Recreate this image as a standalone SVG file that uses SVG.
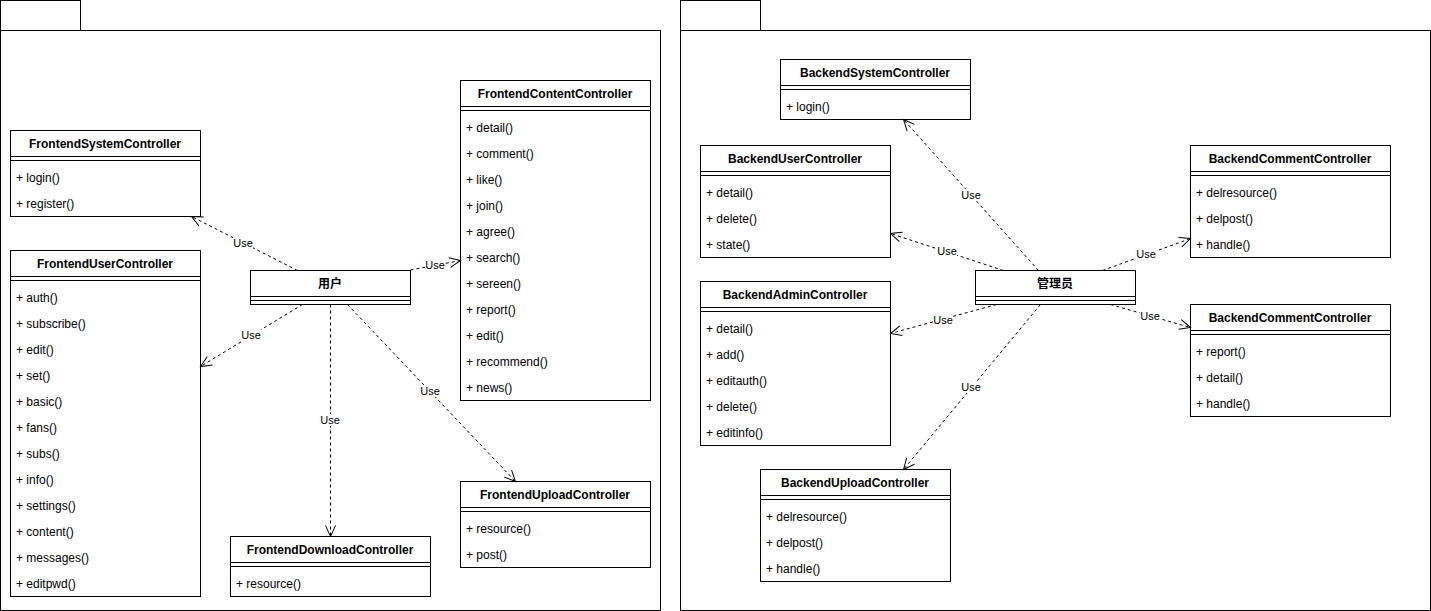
<svg xmlns="http://www.w3.org/2000/svg" width="1431" height="611" viewBox="0 0 1431 611">
<style>
.pk{fill:#fff;stroke:#000;stroke-width:1}
.bx{fill:#fff;stroke:#000;stroke-width:1}
.ln{stroke:#000;stroke-width:1}
.t{font-family:"Liberation Sans",Arial,"Noto Sans CJK SC",sans-serif;font-size:12px;font-weight:bold;text-anchor:middle;fill:#000}
.m{font-family:"Liberation Sans",Arial,sans-serif;font-size:12px;fill:#000}
.c{fill:none;stroke:#000;stroke-width:1;stroke-dasharray:3 3;marker-end:url(#open)}
.lb{fill:#fff}
.lt{font-family:"Liberation Sans",Arial,sans-serif;font-size:11px;text-anchor:middle;fill:#000}
</style>
<defs>
<marker id="open" markerUnits="userSpaceOnUse" markerWidth="16" markerHeight="16" viewBox="-13 -8 16 16" refX="0" refY="0" orient="auto">
<path d="M-11,-5 L0,0 L-11,5" fill="none" stroke="#000" stroke-width="1"/>
</marker>
</defs>

<g id="pkg-frontend">
<rect class="pk" x="0.5" y="0.5" width="80" height="30"/>
<rect class="pk" x="0.5" y="30.5" width="660" height="580"/>
</g>
<g id="pkg-backend">
<rect class="pk" x="680.5" y="0.5" width="80" height="30"/>
<rect class="pk" x="680.5" y="30.5" width="750" height="580"/>
</g>

<g id="FrontendSystemController">
<rect class="bx" x="10.5" y="130.5" width="190" height="86"/>
<line class="ln" x1="10" y1="156.5" x2="201" y2="156.5"/>
<line class="ln" x1="10" y1="160.5" x2="201" y2="160.5"/>
<text class="t" x="105" y="148">FrontendSystemController</text>
<text class="m" x="16" y="182">+ login()</text>
<text class="m" x="16" y="208">+ register()</text>
</g>

<g id="FrontendUserController">
<rect class="bx" x="10.5" y="250.5" width="190" height="346"/>
<line class="ln" x1="10" y1="276.5" x2="201" y2="276.5"/>
<line class="ln" x1="10" y1="280.5" x2="201" y2="280.5"/>
<text class="t" x="105" y="268">FrontendUserController</text>
<text class="m" x="16" y="302">+ auth()</text>
<text class="m" x="16" y="328">+ subscribe()</text>
<text class="m" x="16" y="354">+ edit()</text>
<text class="m" x="16" y="380">+ set()</text>
<text class="m" x="16" y="406">+ basic()</text>
<text class="m" x="16" y="432">+ fans()</text>
<text class="m" x="16" y="458">+ subs()</text>
<text class="m" x="16" y="484">+ info()</text>
<text class="m" x="16" y="510">+ settings()</text>
<text class="m" x="16" y="536">+ content()</text>
<text class="m" x="16" y="562">+ messages()</text>
<text class="m" x="16" y="588">+ editpwd()</text>
</g>

<g id="FrontendContentController">
<rect class="bx" x="460.5" y="80.5" width="190" height="320"/>
<line class="ln" x1="460" y1="106.5" x2="651" y2="106.5"/>
<line class="ln" x1="460" y1="110.5" x2="651" y2="110.5"/>
<text class="t" x="555" y="98">FrontendContentController</text>
<text class="m" x="466" y="132">+ detail()</text>
<text class="m" x="466" y="158">+ comment()</text>
<text class="m" x="466" y="184">+ like()</text>
<text class="m" x="466" y="210">+ join()</text>
<text class="m" x="466" y="236">+ agree()</text>
<text class="m" x="466" y="262">+ search()</text>
<text class="m" x="466" y="288">+ sereen()</text>
<text class="m" x="466" y="314">+ report()</text>
<text class="m" x="466" y="340">+ edit()</text>
<text class="m" x="466" y="366">+ recommend()</text>
<text class="m" x="466" y="392">+ news()</text>
</g>

<g id="user">
<rect class="bx" x="250.5" y="270.5" width="160" height="34"/>
<line class="ln" x1="250" y1="296.5" x2="411" y2="296.5"/>
<line class="ln" x1="250" y1="300.5" x2="411" y2="300.5"/>
<text class="t" x="330" y="288">用户</text>
</g>

<g id="FrontendDownloadController">
<rect class="bx" x="230.5" y="536.5" width="200" height="60"/>
<line class="ln" x1="230" y1="562.5" x2="431" y2="562.5"/>
<line class="ln" x1="230" y1="566.5" x2="431" y2="566.5"/>
<text class="t" x="330" y="554">FrontendDownloadController</text>
<text class="m" x="236" y="588">+ resource()</text>
</g>

<g id="FrontendUploadController">
<rect class="bx" x="460.5" y="481.5" width="190" height="86"/>
<line class="ln" x1="460" y1="507.5" x2="651" y2="507.5"/>
<line class="ln" x1="460" y1="511.5" x2="651" y2="511.5"/>
<text class="t" x="555" y="499">FrontendUploadController</text>
<text class="m" x="466" y="533">+ resource()</text>
<text class="m" x="466" y="559">+ post()</text>
</g>

<g id="BackendSystemController">
<rect class="bx" x="780.5" y="59.5" width="190" height="60"/>
<line class="ln" x1="780" y1="85.5" x2="971" y2="85.5"/>
<line class="ln" x1="780" y1="89.5" x2="971" y2="89.5"/>
<text class="t" x="875" y="77">BackendSystemController</text>
<text class="m" x="786" y="111">+ login()</text>
</g>

<g id="BackendUserController">
<rect class="bx" x="700.5" y="145.5" width="190" height="112"/>
<line class="ln" x1="700" y1="171.5" x2="891" y2="171.5"/>
<line class="ln" x1="700" y1="175.5" x2="891" y2="175.5"/>
<text class="t" x="795" y="163">BackendUserController</text>
<text class="m" x="706" y="197">+ detail()</text>
<text class="m" x="706" y="223">+ delete()</text>
<text class="m" x="706" y="249">+ state()</text>
</g>

<g id="BackendAdminController">
<rect class="bx" x="700.5" y="281.5" width="190" height="164"/>
<line class="ln" x1="700" y1="307.5" x2="891" y2="307.5"/>
<line class="ln" x1="700" y1="311.5" x2="891" y2="311.5"/>
<text class="t" x="795" y="299">BackendAdminController</text>
<text class="m" x="706" y="333">+ detail()</text>
<text class="m" x="706" y="359">+ add()</text>
<text class="m" x="706" y="385">+ editauth()</text>
<text class="m" x="706" y="411">+ delete()</text>
<text class="m" x="706" y="437">+ editinfo()</text>
</g>

<g id="admin">
<rect class="bx" x="975.5" y="270.5" width="160" height="34"/>
<line class="ln" x1="975" y1="296.5" x2="1136" y2="296.5"/>
<line class="ln" x1="975" y1="300.5" x2="1136" y2="300.5"/>
<text class="t" x="1055" y="288">管理员</text>
</g>

<g id="BackendCommentController1">
<rect class="bx" x="1190.5" y="145.5" width="200" height="112"/>
<line class="ln" x1="1190" y1="171.5" x2="1391" y2="171.5"/>
<line class="ln" x1="1190" y1="175.5" x2="1391" y2="175.5"/>
<text class="t" x="1290" y="163">BackendCommentController</text>
<text class="m" x="1196" y="197">+ delresource()</text>
<text class="m" x="1196" y="223">+ delpost()</text>
<text class="m" x="1196" y="249">+ handle()</text>
</g>

<g id="BackendCommentController2">
<rect class="bx" x="1190.5" y="304.5" width="200" height="112"/>
<line class="ln" x1="1190" y1="330.5" x2="1391" y2="330.5"/>
<line class="ln" x1="1190" y1="334.5" x2="1391" y2="334.5"/>
<text class="t" x="1290" y="322">BackendCommentController</text>
<text class="m" x="1196" y="356">+ report()</text>
<text class="m" x="1196" y="382">+ detail()</text>
<text class="m" x="1196" y="408">+ handle()</text>
</g>

<g id="BackendUploadController">
<rect class="bx" x="760.5" y="469.5" width="190" height="112"/>
<line class="ln" x1="760" y1="495.5" x2="951" y2="495.5"/>
<line class="ln" x1="760" y1="499.5" x2="951" y2="499.5"/>
<text class="t" x="855" y="487">BackendUploadController</text>
<text class="m" x="766" y="521">+ delresource()</text>
<text class="m" x="766" y="547">+ delpost()</text>
<text class="m" x="766" y="573">+ handle()</text>
</g>

<g id="connectors">
<path class="c" d="M297.5,270.5 L191.5,216.5"/>
<path class="c" d="M410.5,270 L460.5,260.5"/>
<path class="c" d="M302.5,304.5 L200.5,366.5"/>
<path class="c" d="M330.5,304.5 L330.5,536.5"/>
<path class="c" d="M347.5,304.5 L515.5,481.5"/>
<path class="c" d="M1038.5,270.5 L903.5,119.5"/>
<path class="c" d="M1003.5,270.5 L890.5,233.5"/>
<path class="c" d="M1102.5,270.5 L1190.5,238.5"/>
<path class="c" d="M996.5,304.5 L890.5,333.5"/>
<path class="c" d="M1040.5,304.5 L903.5,469.5"/>
<path class="c" d="M1110.5,304.5 L1190.5,327.5"/>
<g id="labels">
<rect class="lb" x="233" y="237" width="20" height="12"/><text class="lt" x="243" y="247">Use</text>
<rect class="lb" x="425" y="259" width="20" height="12"/><text class="lt" x="435" y="269">Use</text>
<rect class="lb" x="241" y="329" width="20" height="12"/><text class="lt" x="251" y="339">Use</text>
<rect class="lb" x="320" y="414" width="20" height="12"/><text class="lt" x="330" y="424">Use</text>
<rect class="lb" x="420" y="385" width="20" height="12"/><text class="lt" x="430" y="395">Use</text>
<rect class="lb" x="961" y="189" width="20" height="12"/><text class="lt" x="971" y="199">Use</text>
<rect class="lb" x="937" y="245" width="20" height="12"/><text class="lt" x="947" y="255">Use</text>
<rect class="lb" x="1136" y="248" width="20" height="12"/><text class="lt" x="1146" y="258">Use</text>
<rect class="lb" x="933" y="314" width="20" height="12"/><text class="lt" x="943" y="324">Use</text>
<rect class="lb" x="961" y="381" width="20" height="12"/><text class="lt" x="971" y="391">Use</text>
<rect class="lb" x="1140" y="310" width="20" height="12"/><text class="lt" x="1150" y="320">Use</text>
</g>
</g>
</svg>
